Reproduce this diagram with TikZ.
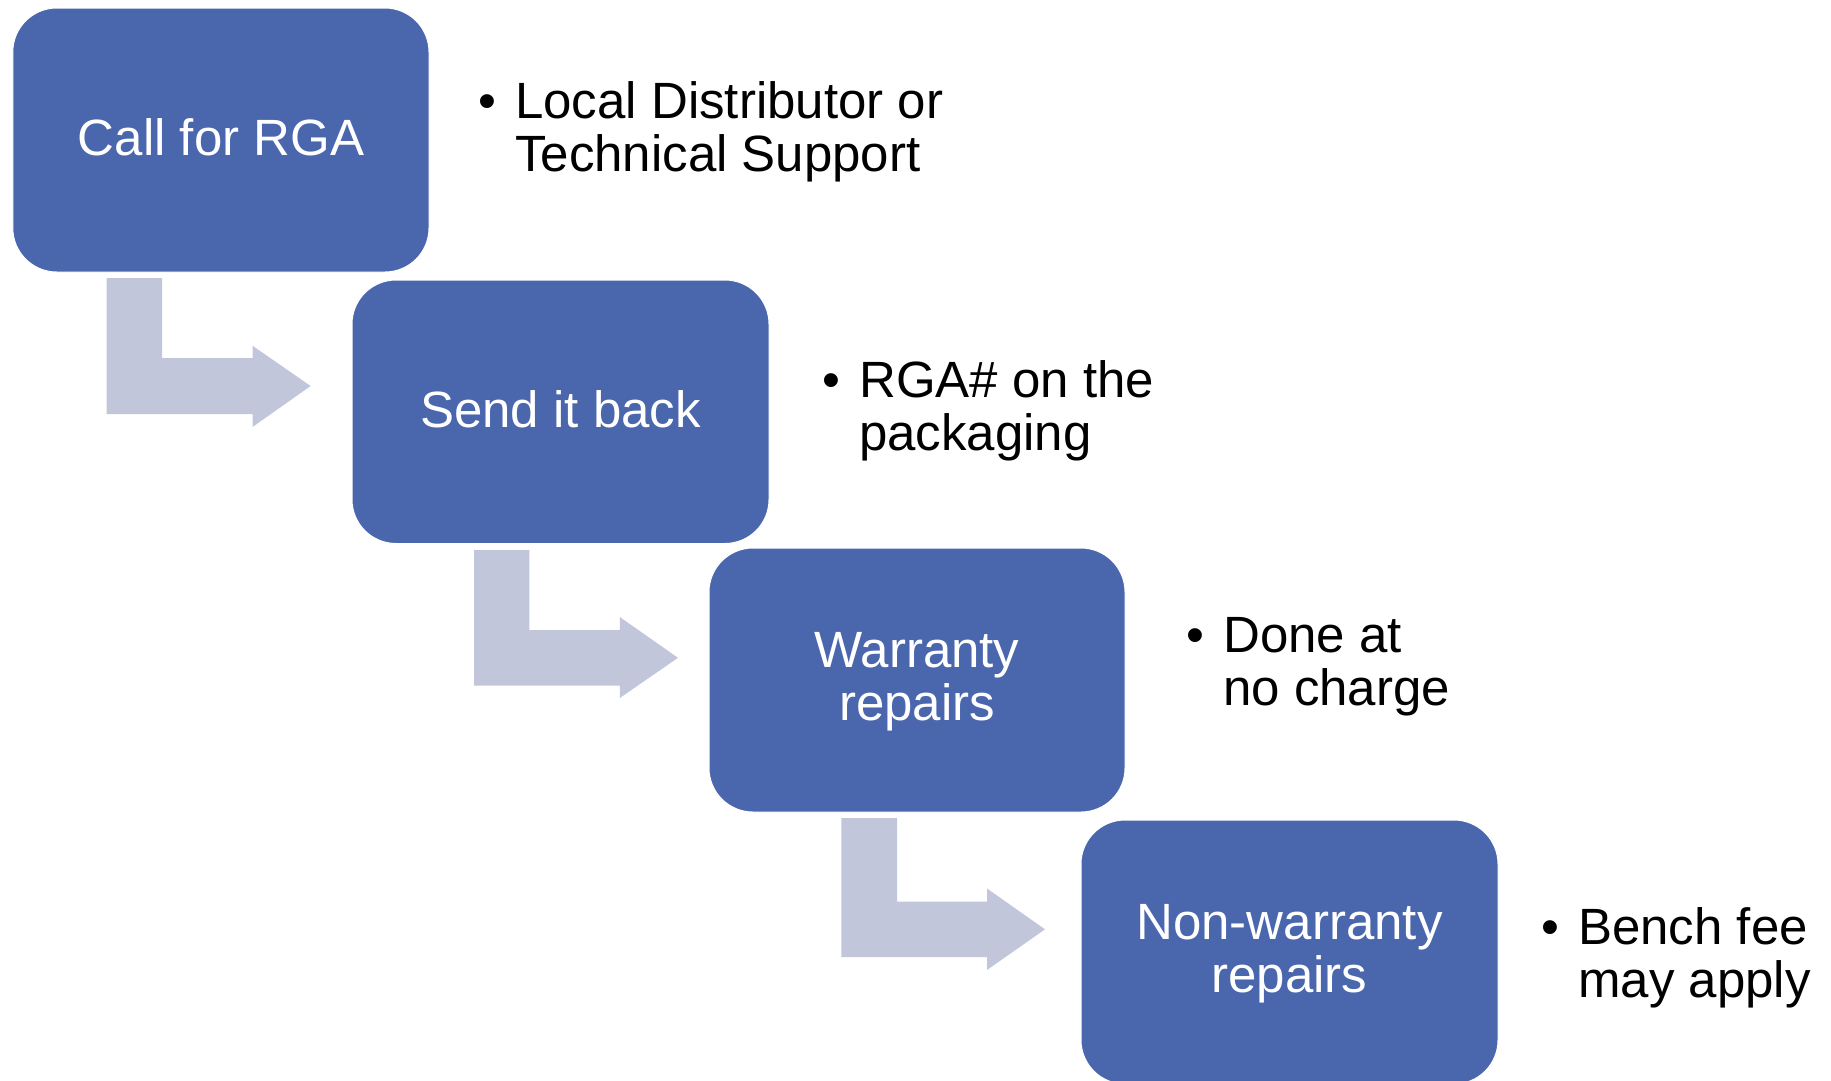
\documentclass[tikz,border=0pt]{standalone}
\usepackage{fontspec}
\setmainfont{Liberation Sans}
\definecolor{boxblue}{RGB}{74,103,174}
\definecolor{arrowgray}{RGB}{193,198,219}
\tikzset{
  stepbox/.style={fill=boxblue, draw=white, line width=1pt, rounded corners=44pt},
  steptext/.style={text=white, align=center, font=\fontsize{51}{53}\selectfont, inner sep=0pt},
  notetext/.style={text=black, align=left, anchor=base west, font=\fontsize{51}{53}\selectfont, inner sep=0pt},
  bentarrow/.style={fill=arrowgray, draw=none}
}
\newcommand{\bul}{\llap{\textbullet\hspace{19pt}}}
\begin{document}
\begin{tikzpicture}[x=1pt,y=-1pt]
\useasboundingbox (0,0) rectangle (1831,1080);
\clip (0,0) rectangle (1831,1080);
% arrows
\fill[bentarrow] (106.5,278) -- (162,278) -- (162,358) -- (252.5,358) -- (252.5,345.7) -- (310.6,386) -- (252.5,427) -- (252.5,414) -- (106.5,414) -- cycle;
\fill[bentarrow] (474,550) -- (529.4,550) -- (529.4,630) -- (619.8,630) -- (619.8,617) -- (678,657.8) -- (619.8,698) -- (619.8,685.7) -- (474,685.7) -- cycle;
\fill[bentarrow] (841.4,818) -- (897,818) -- (897,901.6) -- (987,901.6) -- (987,888.5) -- (1045,929.3) -- (987,970) -- (987,957) -- (841.4,957) -- cycle;
% boxes
\path[stepbox] (12.8,8) rectangle (429,272);
\path[stepbox] (352,280) rectangle (769,543.5);
\path[stepbox] (709,548) rectangle (1125,812);
\path[stepbox] (1081,820) rectangle (1498,1084);
\node[steptext] (s1) at (221,137) {Call for RGA};
\node[steptext] (s2) at (560.5,409) {Send it back};
\node[steptext] (s3) at (917,682) {Warranty\\repairs};
\node[steptext] (s4) at (1289.5,954) {Non-warranty\\repairs};
% notes (anchor = baseline of last line)
\node[notetext] (n1) at (515,171) {\bul Local Distributor or\\Technical Support};
\node[notetext] (n2) at (859,450) {\bul RGA\# on the\\packaging};
\node[notetext] (n3) at (1223,705) {\bul Done at\\no charge};
\node[notetext] (n4) at (1578,997) {\bul Bench fee\\may apply};
\end{tikzpicture}
\end{document}
